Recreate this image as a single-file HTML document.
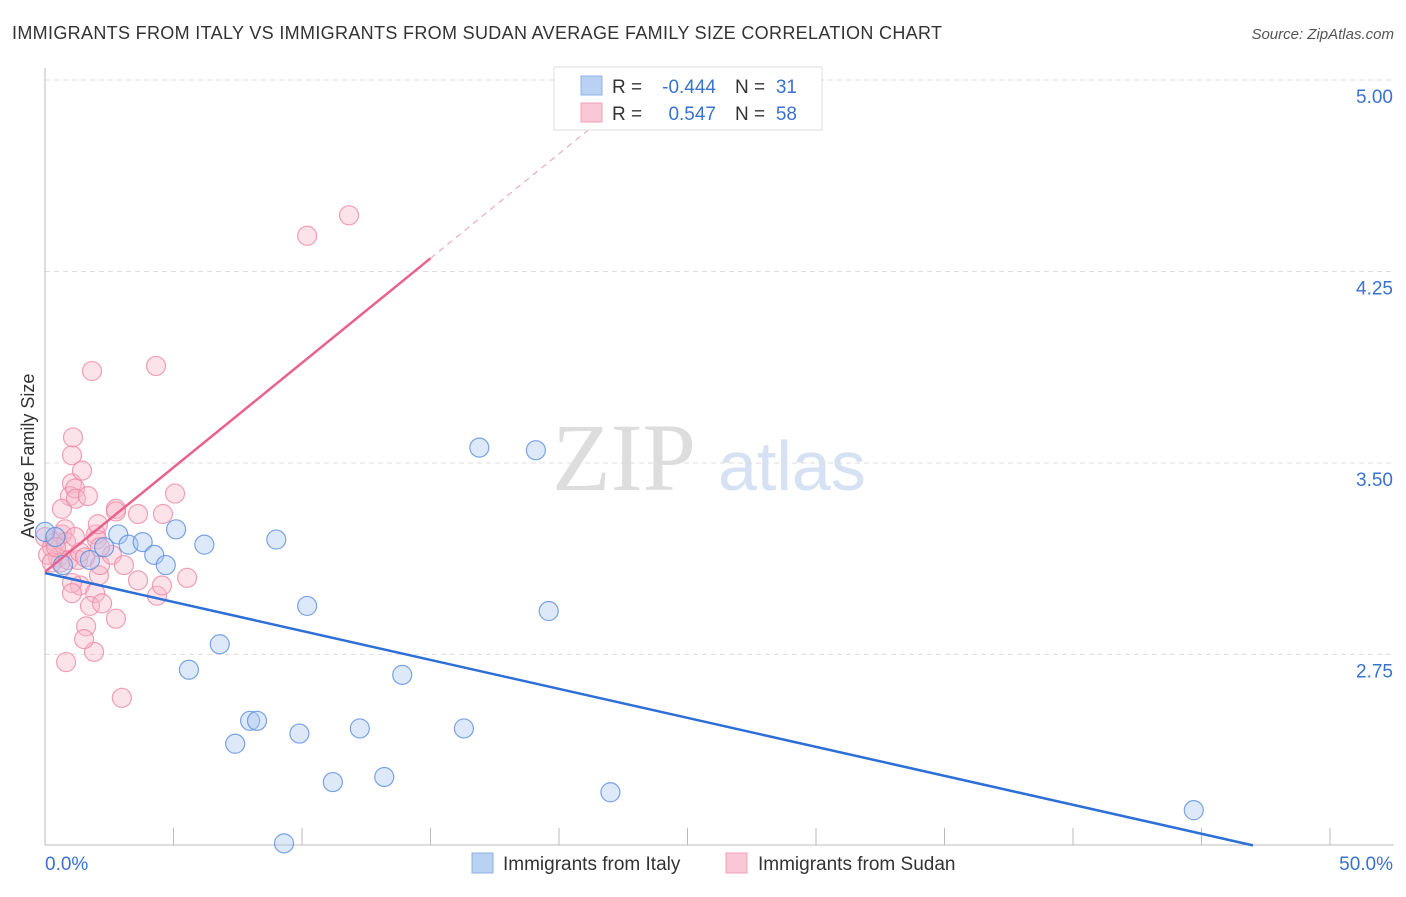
<!DOCTYPE html>
<html><head><meta charset="utf-8"><style>
body{margin:0;background:#fff;font-family:"Liberation Sans",sans-serif}
svg text{font-family:"Liberation Sans",sans-serif}
</style></head><body>
<svg id="chart" width="1406" height="892">
<text x="12" y="39" font-size="18" fill="#333" textLength="930">IMMIGRANTS FROM ITALY VS IMMIGRANTS FROM SUDAN AVERAGE FAMILY SIZE CORRELATION CHART</text>
<text x="1394" y="39" font-size="15" fill="#555" font-style="italic" text-anchor="end">Source: ZipAtlas.com</text>
<text x="34" y="456" font-size="18" fill="#333" text-anchor="middle" transform="rotate(-90 34 456)">Average Family Size</text>
<text x="552" y="490" font-size="96" fill="#ddd" style="font-family:'Liberation Serif',serif">ZIP</text>
<text x="718" y="490" font-size="70" fill="#d6e2f3">atlas</text>
<g id="grid"></g><g id="axes"></g><g id="pts"></g><g id="lines"></g>
<g>
<rect x="554" y="67" width="268" height="63" fill="#fff" stroke="#ddd"/>
<rect x="581" y="76" width="21" height="19" fill="#b9d1f3" stroke="#8fb1e6"/>
<rect x="581" y="103" width="21" height="19" fill="#f9c7d6" stroke="#f1a2ba"/>
<text x="612" y="93" font-size="19" fill="#333">R =</text>
<text x="716" y="93" font-size="19" fill="#3a72d0" text-anchor="end">-0.444</text>
<text x="735" y="93" font-size="19" fill="#333">N =</text>
<text x="797" y="93" font-size="19" fill="#3a72d0" text-anchor="end">31</text>
<text x="612" y="120" font-size="19" fill="#333">R =</text>
<text x="716" y="120" font-size="19" fill="#3a72d0" text-anchor="end">0.547</text>
<text x="735" y="120" font-size="19" fill="#333">N =</text>
<text x="797" y="120" font-size="19" fill="#3a72d0" text-anchor="end">58</text>
</g>
<g>
<rect x="472" y="853" width="21" height="20" fill="#b9d1f3" stroke="#8fb1e6"/>
<text x="503" y="870" font-size="19" fill="#333">Immigrants from Italy</text>
<rect x="726" y="853" width="21" height="20" fill="#f9c7d6" stroke="#f1a2ba"/>
<text x="758" y="870" font-size="19" fill="#333">Immigrants from Sudan</text>
</g>
</svg>
<script>
const yTicks=[5.00,4.25,3.50,2.75];
const xTickLabels=["0.0%","50.0%"];
const italyX=[0,0.4,0.7,1.75,2.3,2.85,3.25,3.8,4.25,4.7,5.1,6.2,9.0,5.6,6.8,10.2,7.98,8.25,7.4,9.9,11.2,12.25,13.2,13.9,16.3,16.9,19.1,19.6,22.0,44.7,9.3];
const italyY=[3.23,3.21,3.10,3.12,3.17,3.22,3.18,3.19,3.14,3.10,3.24,3.18,3.20,2.69,2.79,2.94,2.49,2.49,2.40,2.44,2.25,2.46,2.27,2.67,2.46,3.56,3.55,2.92,2.21,2.14,2.01];
const sudanX=[0,0.27,0.4,0.5,0.6,0.12,0.66,0.78,0.27,0.9,1.05,1.05,1.09,0.97,0.66,1.17,1.2,1.44,1.28,1.36,1.36,1.05,1.05,1.67,1.83,1.98,2.02,2.06,2.1,2.14,1.95,1.75,1.91,1.6,1.52,0.82,2.22,2.76,2.76,2.76,2.6,3.07,2.99,3.62,3.62,4.32,4.36,4.55,4.59,5.06,5.53,10.2,11.83,0.82,0.43,1.56,2.14,1.17];
const sudanY=[3.21,3.17,3.19,3.13,3.11,3.14,3.22,3.24,3.11,3.12,3.42,3.53,3.60,3.37,3.32,3.40,3.36,3.47,3.12,3.15,3.02,3.03,2.99,3.37,3.86,3.22,3.20,3.26,3.06,3.10,2.99,2.94,2.76,2.86,2.81,2.72,2.95,2.89,3.32,3.31,3.14,3.10,2.58,3.30,3.04,3.88,2.98,3.02,3.30,3.38,3.05,4.39,4.47,3.19,3.17,3.13,3.17,3.21];
const italyTrend=[3.069,-0.0227];
const sudanTrend=[3.073,0.0819];
const NS="http://www.w3.org/2000/svg";
const X=v=>45+v*25.7, Y=v=>80+(5-v)*255.3;
function mk(t,a,p){const e=document.createElementNS(NS,t);for(const k in a)e.setAttribute(k,a[k]);document.getElementById(p).appendChild(e);return e;}
yTicks.forEach(v=>{
 const g=mk('line',{x1:45,x2:1394,y1:Y(v),y2:Y(v),stroke:'#ddd','stroke-dasharray':'5,4'},'grid');
 
 
 const t=mk('text',{x:1393,y:Y(v)+23,'font-size':19,fill:'#3a72d0','text-anchor':'end'},'grid');
 t.textContent=v.toFixed(2);
 
 
});
const ax=mk('line',{x1:45,x2:45,y1:68,y2:845,stroke:'#bbb'},'axes');


const bx=mk('line',{x1:45,x2:1394,y1:845,y2:845,stroke:'#bbb'},'axes');


for(let i=1;i<=10;i++){const tk=mk('line',{x1:X(i*5),x2:X(i*5),y1:828,y2:845,stroke:'#bbb'},'axes');
 
 }
[[45,'start',xTickLabels[0]],[1393,'end',xTickLabels[1]]].forEach(d=>{const t=mk('text',{x:d[0],y:870,'font-size':19,fill:'#3a72d0','text-anchor':d[1]},'axes');t.textContent=d[2];
 
 });
function pts(xs,ys,f,s,n){xs.forEach((x,i)=>{const c=mk('circle',{cx:X(x),cy:Y(ys[i]),r:9.5,fill:f,'fill-opacity':0.4,stroke:s,'stroke-opacity':0.8,'stroke-width':1.2},'pts');
 
 });}
pts(sudanX,sudanY,'#f7b6c9','#ec89a8','sudan-point');
pts(italyX,italyY,'#a9c6ef','#5b8fdc','italy-point');
const f=(t,x)=>t[0]+t[1]*x;
const bl=mk('line',{x1:X(0),y1:Y(f(italyTrend,0)),x2:X(47),y2:Y(f(italyTrend,47)),stroke:'#2d6fd6','stroke-width':2.5},'lines');


const pl=mk('line',{x1:X(0),y1:Y(f(sudanTrend,0)),x2:X(15),y2:Y(f(sudanTrend,15)),stroke:'#e8628d','stroke-width':2.5},'lines');


const pd=mk('line',{x1:X(15),y1:Y(f(sudanTrend,15)),x2:X(23),y2:Y(f(sudanTrend,23)),stroke:'#eeaabf','stroke-width':1.2,'stroke-dasharray':'6,5'},'lines');


</script>
</body></html>
